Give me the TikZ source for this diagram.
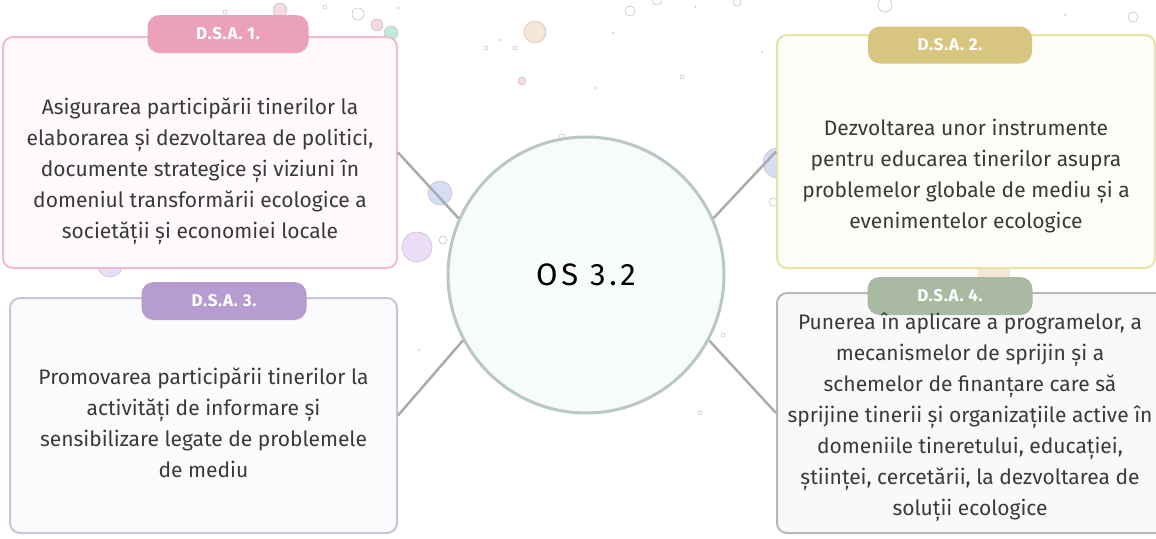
\documentclass[tikz,border=0pt]{standalone}
\usepackage{fontspec}
\setmainfont{Fira Sans}
\usetikzlibrary{positioning}
\definecolor{inkgray}{HTML}{3A3A3A}
\definecolor{pinkline}{HTML}{F0BCCB}
\definecolor{pinktab}{HTML}{EBA2B9}
\definecolor{yellowline}{HTML}{E5E3A6}
\definecolor{yellowtab}{HTML}{D8C57F}
\definecolor{lilacline}{HTML}{CBC4D9}
\definecolor{lilactab}{HTML}{B79CD2}
\definecolor{sageline}{HTML}{B7B9B5}
\definecolor{sagetab}{HTML}{AABAA2}
\definecolor{hubline}{HTML}{B9C7C5}
\definecolor{hubfill}{HTML}{F8FBFB}
\definecolor{linkgray}{HTML}{ABABAB}
\definecolor{bubblegray}{HTML}{C6C6C6}
\definecolor{peach}{HTML}{F5E6D5}
\definecolor{skyblue}{HTML}{D6DEF6}
\definecolor{lilac}{HTML}{ECDDF6}
\definecolor{mint}{HTML}{BFEBDD}
\definecolor{rose}{HTML}{F7D9E3}

\begin{document}
\begin{tikzpicture}[
  x=1pt, y=-1pt,
  card/.style={
    draw,
    rounded corners=10pt,
    line width=2pt,
    inner sep=0pt
  },
  cardtext/.style={
    align=center,
    text=inkgray,
    font=\fontsize{21}{31}\selectfont
  },
  tab/.style={
    rounded corners=12pt,
    minimum width=161pt,
    minimum height=38pt,
    text=white,
    font=\fontsize{17}{20}\selectfont\bfseries\addfontfeatures{LetterSpace=4}
  },
  hub/.style={
    circle,
    draw=hubline,
    fill=hubfill,
    line width=3pt,
    minimum size=276pt,
    font=\fontsize{31}{36}\selectfont\addfontfeatures{LetterSpace=12},
    text=black
  },
  link/.style={draw=linkgray,line width=2.5pt},
  bubble/.style={draw=bubblegray,line width=0.6pt}
]
  \useasboundingbox (0,0) rectangle (1156,538);

  % bubbles
  \foreach \bx/\by/\br/\bc in {280/10/7/rose, 225/12/2/white, 325/7/2/white,
      358/14/6/white, 377/25/6/rose, 391/33/7/mint, 535/32/11/peach,
      486/48/2/white, 515/48/2/white, 522/81/4/rose, 630/11/5/white,
      657/0/5/white, 682/77/2/white, 737/2/4/white, 885/5/7/white,
      1133/17/5/white, 778/163/15/skyblue, 773/202/4/white,
      440/193/12/skyblue, 417/247/15/lilac, 443/240/4/white,
      562/137/3/white, 110/264/13/lilac, 723/335/2/white, 700/413/2/white}
    \draw[bubble,fill=\bc] (\bx,\by) circle (\br pt);
  \foreach \bx/\by in {500/40, 595/88, 613/33, 695/7, 398/8, 1065/15, 762/52, 419/350}
    \fill[bubblegray] (\bx,\by) circle (1pt);
  \fill[peach] (978,266) rectangle (1010,278);

  % cards
  \node[card,draw=pinkline,fill=pinkline!8,minimum width=394pt,minimum height=231pt]
    (b1) at (200,152.5) {};
  \node[card,draw=yellowline,fill=yellowline!8,minimum width=378pt,minimum height=233pt]
    (b2) at (966,151.5) {};
  \node[card,draw=lilacline,fill=lilacline!8,minimum width=387pt,minimum height=235pt]
    (b3) at (203.5,415.5) {};
  \node[card,draw=sageline,fill=sageline!8,minimum width=393pt,minimum height=240pt]
    (b4) at (973.5,413) {};

  \node[tab,fill=pinktab] (tab1) at (228,34) {D.S.A. 1.};
  \node[tab,fill=yellowtab,minimum width=164pt,minimum height=37pt] (tab2) at (950,45) {D.S.A. 2.};
  \node[tab,fill=lilactab,minimum width=165pt] (tab3) at (224,301) {D.S.A. 3.};
  \node[tab,fill=sagetab,minimum width=165pt] (tab4) at (950,296) {D.S.A. 4.};

  \node[cardtext] (t1) at (200,171) {Asigurarea participării tinerilor la\\elaborarea și dezvoltarea de politici,\\documente strategice și viziuni în\\domeniul transformării ecologice a\\societății și economiei locale};
  \node[cardtext] (t2) at (966,176) {Dezvoltarea unor instrumente\\pentru educarea tinerilor asupra\\problemelor globale de mediu și a\\evenimentelor ecologice};
  \node[cardtext] (t3) at (203.5,423) {Promovarea participării tinerilor la\\activități de informare și\\sensibilizare legate de problemele\\de mediu};
  \node[cardtext] (t4) at (970,417.5) {Punerea în aplicare a programelor, a\\mecanismelor de sprijin și a\\schemelor de finanțare care să\\sprijine tinerii și organizațiile active în\\domeniile tineretului, educației,\\științei, cercetării, la dezvoltarea de\\soluții ecologice};

  % hub
  \node[hub] (os) at (586,275) {OS 3.2};

  \draw[link] (os.156) -- (b1.east);
  \draw[link] (os.24) -- (b2.west);
  \draw[link] (os.208) -- (b3.east);
  \draw[link] (os.332) -- (b4.west);

\end{tikzpicture}
\end{document}
